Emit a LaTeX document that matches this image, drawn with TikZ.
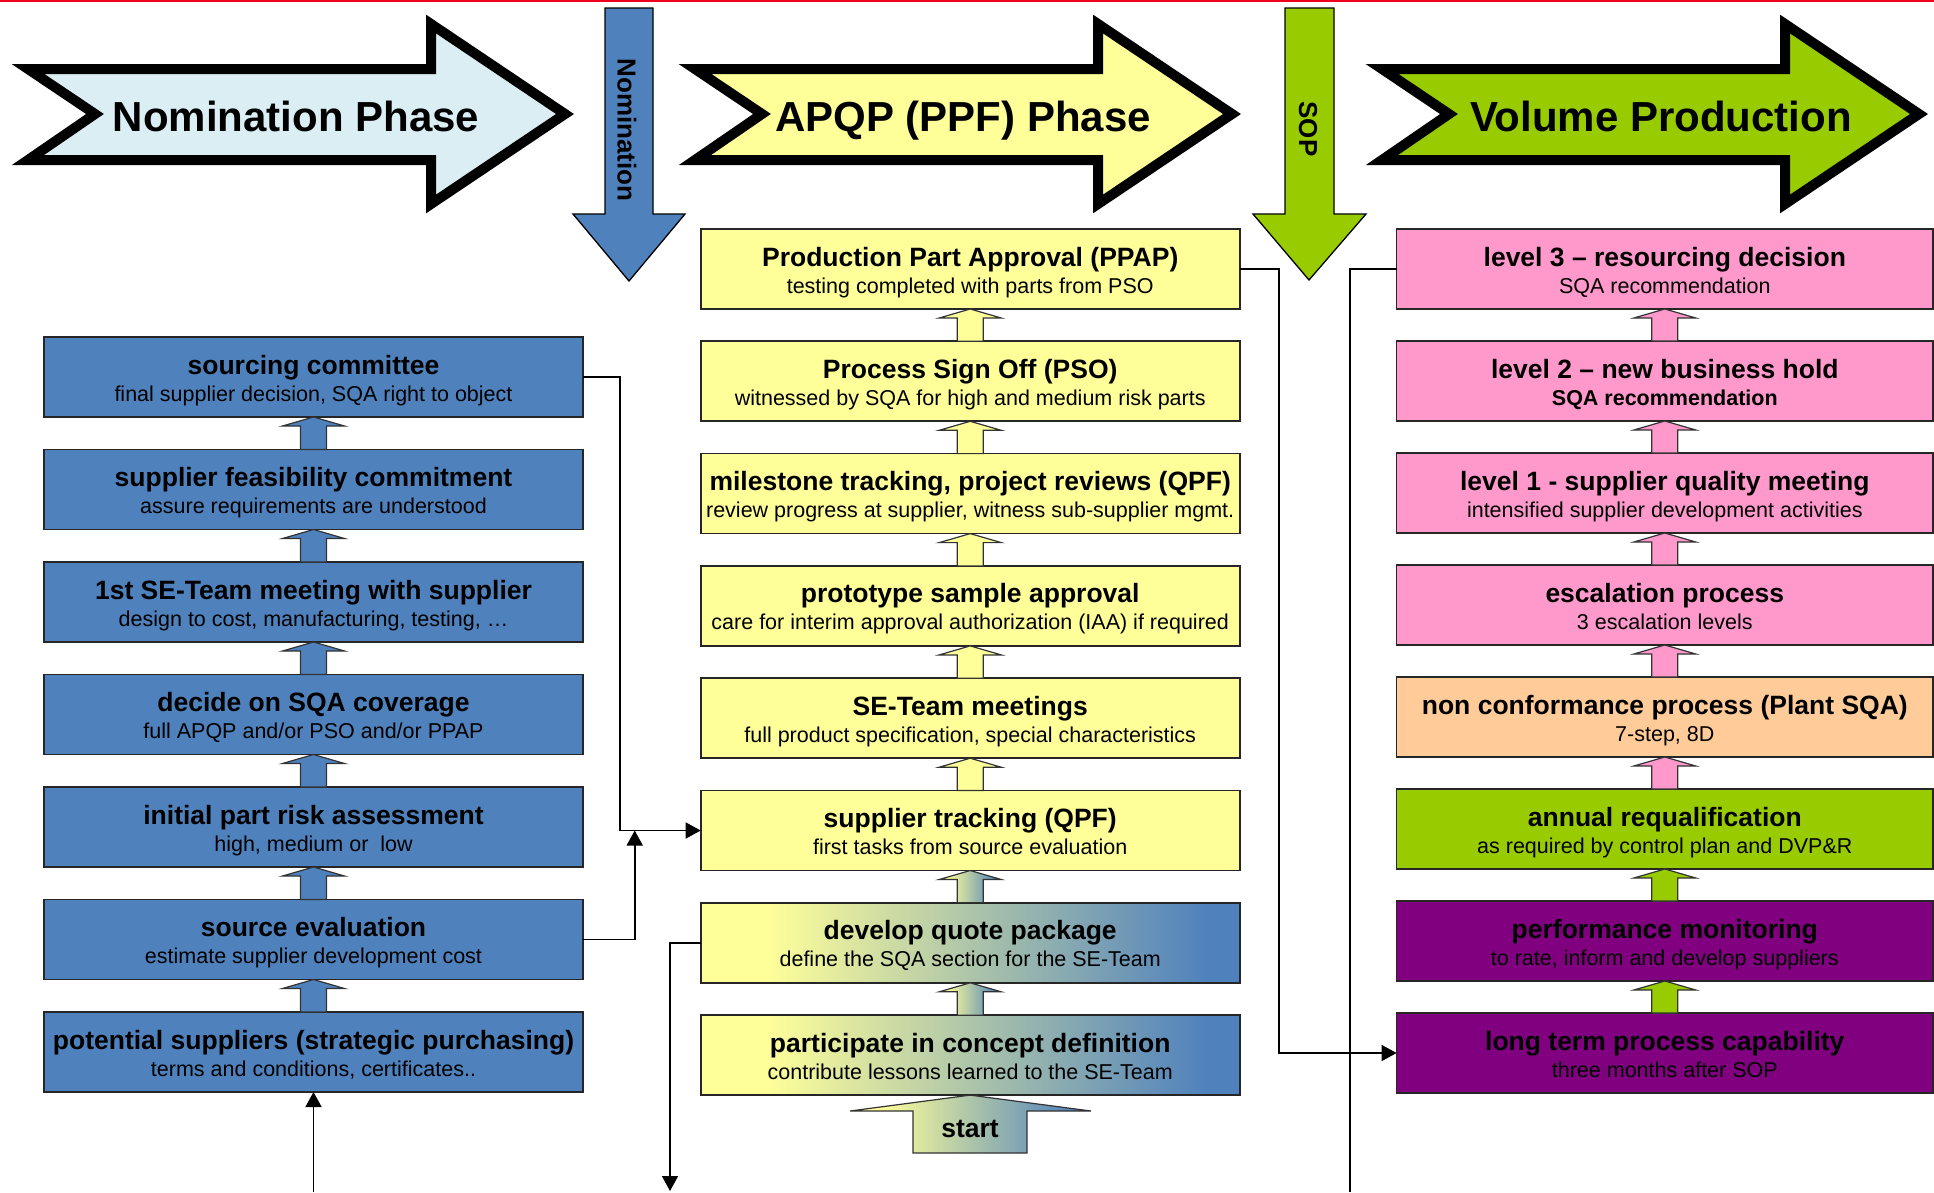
\documentclass[tikz,border=0pt]{standalone}
\usepackage{fontspec}
\setmainfont{Liberation Sans}
\usetikzlibrary{calc,arrows.meta}

\definecolor{nomblue}{HTML}{4F81BD}
\definecolor{ppfyel}{HTML}{FFFF99}
\definecolor{sopgrn}{HTML}{99CC00}
\definecolor{escpink}{HTML}{FF99CC}
\definecolor{ncpeach}{HTML}{FFCC99}
\definecolor{monpurp}{HTML}{800080}
\definecolor{phasecyan}{HTML}{DAEEF3}
\definecolor{topred}{HTML}{F0001E}

% yellow-to-blue fade used by the early concept steps
\pgfdeclarehorizontalshading{yelblue}{100bp}{color(0bp)=(ppfyel); color(31bp)=(ppfyel); color(72bp)=(nomblue); color(100bp)=(nomblue)}

% step box: name, left, top, right, style, title, subtitle
\newcommand\qbox[7]{%
  \node[boxbase,#5,minimum width={#4-#2}] (#1) at (#2,#3) {};
  \node[ttl] (#1-t) at ($(#1.north)+(0,37)$) {#6};
  \node[sbt] (#1-s) at ($(#1.north)+(0,64)$) {#7};}

% block arrow from the lower box up to the upper box
\newcommand\linkarrow[3]{%
  \path[barrow,#3] ($(#1.north)+(-13,0)$) -- ($(#2.south)+(-13,9)$) -- ($(#2.south)+(-31,9)$)
    -- (#2.south) -- ($(#2.south)+(31,9)$) -- ($(#2.south)+(13,9)$) -- ($(#1.north)+(13,0)$) -- cycle;}

% outlined phase arrow (drawn along the middle of its thick outline)
\newcommand\phasearrow[1]{%
  \draw[phase,#1] (28,69) -- (431,69) -- (431,24) -- (565,114) -- (431,204)
    -- (431,160) -- (28,160) -- (95,114) -- cycle;}

\begin{document}
\begin{tikzpicture}[x=1pt,y=-1pt,
  boxbase/.style={rectangle, draw=black!85, line width=1.7pt, minimum height=80pt,
    inner sep=0pt, outer sep=0pt, anchor=north west},
  ttl/.style={anchor=base, inner sep=0pt, font=\fontsize{26.5}{30}\selectfont\bfseries},
  sbt/.style={anchor=base, inner sep=0pt, font=\fontsize{21.5}{24}\selectfont},
  phase/.style={draw=black, line width=10pt, line join=miter},
  phasetext/.style={anchor=base, inner sep=0pt, font=\fontsize{42}{48}\selectfont\bfseries},
  vtext/.style={rotate=-90, inner sep=0pt, font=\fontsize{26}{30}\selectfont\bfseries},
  gatearrow/.style={draw=black, line width=1.3pt, line join=miter},
  conn/.style={draw=black, line width=1.6pt},
  tip/.style={-{Triangle[length=15pt,width=16pt]}},
  barrow/.style={draw=black!80, line width=1.2pt, line join=miter},
  blue/.style={fill=nomblue},
  yel/.style={fill=ppfyel},
  fade/.style={shading=yelblue},
  pink/.style={fill=escpink},
  peach/.style={fill=ncpeach},
  grn/.style={fill=sopgrn},
  purp/.style={fill=monpurp}]

\useasboundingbox (0,0) rectangle (1934,1192);
\fill[topred] (0,0) rectangle (1934,2.2);

% ---------- phase arrows ----------
\phasearrow{fill=phasecyan}
\begin{scope}[xshift=667pt]
  \phasearrow{fill=ppfyel}
\end{scope}
\begin{scope}[xshift=1354pt]
  \phasearrow{fill=sopgrn}
\end{scope}
\node[phasetext] (p1) at (296,131) {Nomination Phase};
\node[phasetext] (p2) at (963,131) {APQP (PPF) Phase};
\node[phasetext] (p3) at (1661,131) {Volume Production};

% ---------- gate arrows ----------
\draw[gatearrow, fill=nomblue] (605,8) -- (653,8) -- (653,214) -- (685,214) -- (629,281)
  -- (573,214) -- (605,214) -- cycle;
\node[vtext] (g1) at (627,130) {Nomination};
\draw[gatearrow, fill=sopgrn] (1285,8) -- (1334,8) -- (1334,214) -- (1366,214) -- (1309,280)
  -- (1253,214) -- (1285,214) -- cycle;
\node[vtext] (g2) at (1308,129) {SOP};

% ---------- nomination column ----------
\qbox{sc}{44}{337}{583}{blue}{sourcing committee}{final supplier decision, SQA right to object}
\qbox{sf}{44}{449.5}{583}{blue}{supplier feasibility commitment}{assure requirements are understood}
\qbox{st}{44}{562}{583}{blue}{1st SE-Team meeting with supplier}{design to cost, manufacturing, testing, …}
\qbox{cov}{44}{674.5}{583}{blue}{decide on SQA coverage}{full APQP and/or PSO and/or PPAP}
\qbox{risk}{44}{787}{583}{blue}{initial part risk assessment}{high, medium or~ low}
\qbox{se}{44}{899.5}{583}{blue}{source evaluation}{estimate supplier development cost}
\qbox{ps}{44}{1012}{583}{blue}{potential suppliers (strategic purchasing)}{terms and conditions, certificates..}

% ---------- APQP column ----------
\qbox{ppap}{700.7}{229}{1239.7}{yel}{Production Part Approval (PPAP)}{testing completed with parts from PSO}
\qbox{pso}{700.7}{341.3}{1239.7}{yel}{Process Sign Off (PSO)}{witnessed by SQA for high and medium risk parts}
\qbox{ms}{700.7}{453.6}{1239.7}{yel}{milestone tracking, project reviews (QPF)}{review progress at supplier, witness sub-supplier mgmt.}
\qbox{proto}{700.7}{565.9}{1239.7}{yel}{prototype sample approval}{care for interim approval authorization (IAA) if required}
\qbox{team}{700.7}{678.2}{1239.7}{yel}{SE-Team meetings}{full product specification, special characteristics}
\qbox{tr}{700.7}{790.5}{1239.7}{yel}{supplier tracking (QPF)}{first tasks from source evaluation}
\qbox{dq}{700.7}{902.8}{1239.7}{fade}{develop quote package}{define the SQA section for the SE-Team}
\qbox{cd}{700.7}{1015.1}{1239.7}{fade}{participate in concept definition}{contribute lessons learned to the SE-Team}

% ---------- volume production column ----------
\qbox{l3}{1396.6}{229}{1933}{pink}{level 3 – resourcing decision}{SQA recommendation}
\qbox{l2}{1396.6}{341}{1933}{pink}{level 2 – new business hold}{\bfseries SQA recommendation}
\qbox{l1}{1396.6}{453}{1933}{pink}{level 1 - supplier quality meeting}{intensified supplier development activities}
\qbox{esc}{1396.6}{565}{1933}{pink}{escalation process}{3 escalation levels}
\qbox{nc}{1396.6}{677}{1933}{peach}{non conformance process (Plant SQA)}{7-step, 8D}
\qbox{req}{1396.6}{789}{1933}{grn}{annual requalification}{as required by control plan and DVP\&R}
\qbox{perf}{1396.6}{901}{1933}{purp}{performance monitoring}{to rate, inform and develop suppliers}
\qbox{lt}{1396.6}{1013}{1933}{purp}{long term process capability}{three months after SOP}

% ---------- block arrows between steps ----------
\linkarrow{sf}{sc}{blue}
\linkarrow{st}{sf}{blue}
\linkarrow{cov}{st}{blue}
\linkarrow{risk}{cov}{blue}
\linkarrow{se}{risk}{blue}
\linkarrow{ps}{se}{blue}

\linkarrow{pso}{ppap}{yel}
\linkarrow{ms}{pso}{yel}
\linkarrow{proto}{ms}{yel}
\linkarrow{team}{proto}{yel}
\linkarrow{tr}{team}{yel}
\linkarrow{dq}{tr}{fade}
\linkarrow{cd}{dq}{fade}

\linkarrow{l2}{l3}{pink}
\linkarrow{l1}{l2}{pink}
\linkarrow{esc}{l1}{pink}
\linkarrow{nc}{esc}{pink}
\linkarrow{req}{nc}{pink}
\linkarrow{perf}{req}{grn}
\linkarrow{lt}{perf}{grn}

% start arrow
\path[barrow,fade] (913,1153) -- (913,1111) -- (850,1111) -- (cd.south) -- (1091,1111)
  -- (1027,1111) -- (1027,1153) -- cycle;
\node[ttl] (start) at (970,1137) {start};

% ---------- connectors ----------
\coordinate (psin) at (313.5,1192);
\coordinate (dqout) at (670,1191);
\coordinate (l3out) at (1350,1192);
\draw[conn,tip] (psin) -- (ps.south);
\draw[conn,tip] (sc.east) -- ++(37,0) |- (tr.west);
\draw[conn,tip] (se.east) -| ($(tr.west)+(-66,0)$);
\draw[conn,tip] (dq.west) -| (dqout);
\draw[conn,tip] (ppap.east) -| ($(lt.west)+(-117.5,0)$) -- (lt.west);
\draw[conn] (l3.west) -| (l3out);

\end{tikzpicture}
\end{document}
